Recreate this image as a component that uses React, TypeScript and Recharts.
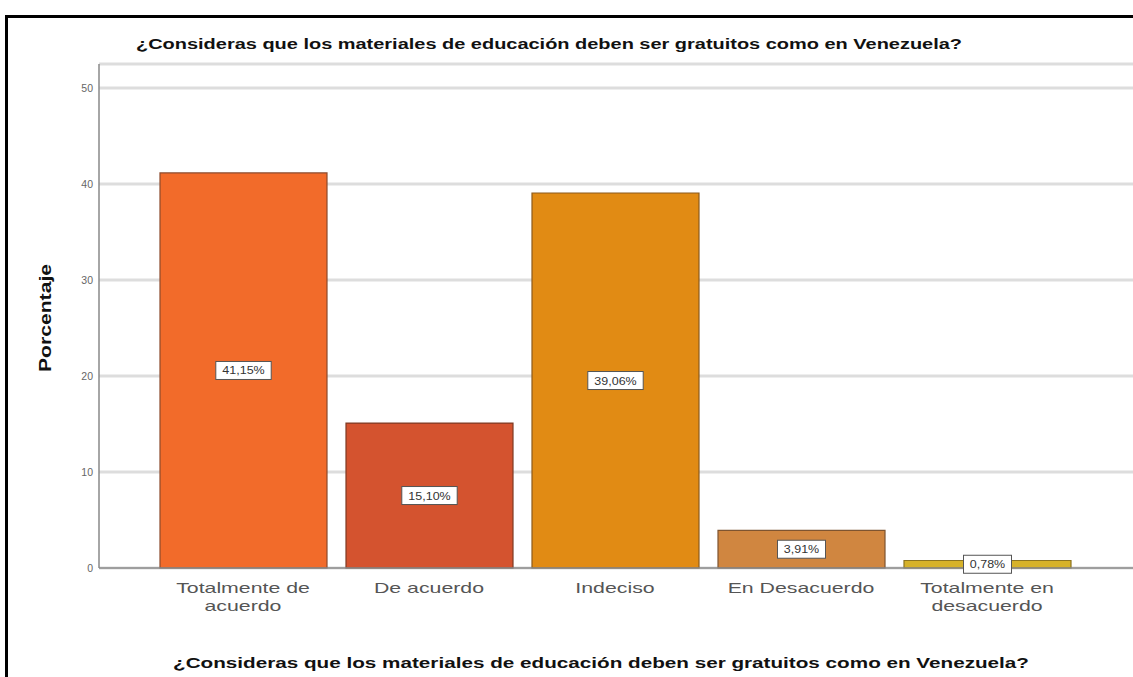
import { BarChart, Bar, XAxis, YAxis, CartesianGrid, Cell, LabelList } from "recharts";

const TITLE = "¿Consideras que los materiales de educación deben ser gratuitos como en Venezuela?";
const Y_TITLE = "Porcentaje";

const categories = [
  "Totalmente de\nacuerdo",
  "De acuerdo",
  "Indeciso",
  "En Desacuerdo",
  "Totalmente en\ndesacuerdo",
];
const percents = [41.15, 15.1, 39.06, 3.91, 0.78];
const fills = ["#F26B2A", "#D4532F", "#E18B14", "#D08640", "#D6B22A"];
const strokes = ["#8C4A2C", "#7E3A24", "#8C5A1C", "#7E5430", "#8C7420"];
const yTicks = [0, 10, 20, 30, 40, 50];

const data = categories.map((name, i) => ({ name, value: percents[i] }));

const FONT = "'Liberation Sans', Arial, sans-serif";

function CategoryTick(props: any) {
  const { x, y, payload } = props;
  const lines = String(payload.value).split("\n");
  return (
    <g transform={`translate(${x},${y}) scale(1.42,1)`}>
      {lines.map((line, i) => (
        <text
          key={i}
          x={0}
          y={17 + i * 18}
          textAnchor="middle"
          fontFamily={FONT}
          fontSize={15}
          fill="#555"
        >
          {line}
        </text>
      ))}
    </g>
  );
}

function ValueTick(props: any) {
  const { y, payload } = props;
  return (
    <text x={93} y={y + 4} textAnchor="end" fontFamily={FONT} fontSize={10.5} fill="#666">
      {payload.value}
    </text>
  );
}

function ValueLabel(props: any) {
  const { x, y, width, height, value } = props;
  const txt = value.toFixed(2).replace(".", ",") + "%";
  const cx = x + width / 2;
  const cy = y + height / 2;
  const w = txt.length * 7.4 + 11;
  return (
    <g>
      <rect x={cx - w / 2} y={cy - 9} width={w} height={18} fill="#fff" stroke="#555" strokeWidth={1} />
      <g transform={`translate(${cx},${cy + 4}) scale(1.25,1)`}>
        <text x={0} y={0} textAnchor="middle" fontFamily={FONT} fontSize={10} fill="#333">
          {txt}
        </text>
      </g>
    </g>
  );
}

export default function App() {
  return (
    <div style={{ position: "absolute", left: 0, top: 0, width: 1133, height: 677, background: "#fff", overflow: "hidden" }}>
      <div
        style={{
          position: "absolute",
          left: 5,
          top: 15,
          width: 1200,
          height: 700,
          borderTop: "3px solid #000",
          borderLeft: "3px solid #000",
        }}
      />
      <div style={{ position: "absolute", left: 0, top: 0 }}>
        <BarChart
          width={1133}
          height={677}
          data={data}
          margin={{ top: 64, right: 0, bottom: 69, left: 69 }}
          barSize={167}
        >
          <CartesianGrid horizontal vertical={false} stroke="#DDDDDD" strokeWidth={3} />
          <XAxis
            dataKey="name"
            padding={{ left: 51, right: 53 }}
            tick={<CategoryTick />}
            tickLine={false}
            axisLine={{ stroke: "#888", strokeWidth: 1.5 }}
            interval={0}
            height={40}
          />
          <YAxis
            width={30}
            domain={[0, 52.5]}
            ticks={yTicks}
            tick={<ValueTick />}
            tickLine={false}
            axisLine={{ stroke: "#888", strokeWidth: 1.5 }}
          />
          <Bar dataKey="value" isAnimationActive={false} strokeWidth={1.2}>
            {data.map((d, i) => (
              <Cell key={d.name} fill={fills[i]} stroke={strokes[i]} />
            ))}
            <LabelList dataKey="value" position="center" content={<ValueLabel />} />
          </Bar>
        </BarChart>
      </div>
      <svg width={1133} height={677} style={{ position: "absolute", left: 0, top: 0, pointerEvents: "none" }}>
        <text
          x={136}
          y={49}
          textLength={826}
          lengthAdjust="spacingAndGlyphs"
          fontFamily={FONT}
          fontWeight="bold"
          fontSize={14}
          fill="#111"
        >
          {TITLE}
        </text>
        <text
          x={173}
          y={668}
          textLength={856}
          lengthAdjust="spacingAndGlyphs"
          fontFamily={FONT}
          fontWeight="bold"
          fontSize={15}
          fill="#111"
        >
          {TITLE}
        </text>
        <text
          transform="translate(51,372) rotate(-90)"
          textLength={108}
          lengthAdjust="spacingAndGlyphs"
          fontFamily={FONT}
          fontWeight="bold"
          fontSize={16}
          fill="#111"
        >
          {Y_TITLE}
        </text>
      </svg>
    </div>
  );
}
